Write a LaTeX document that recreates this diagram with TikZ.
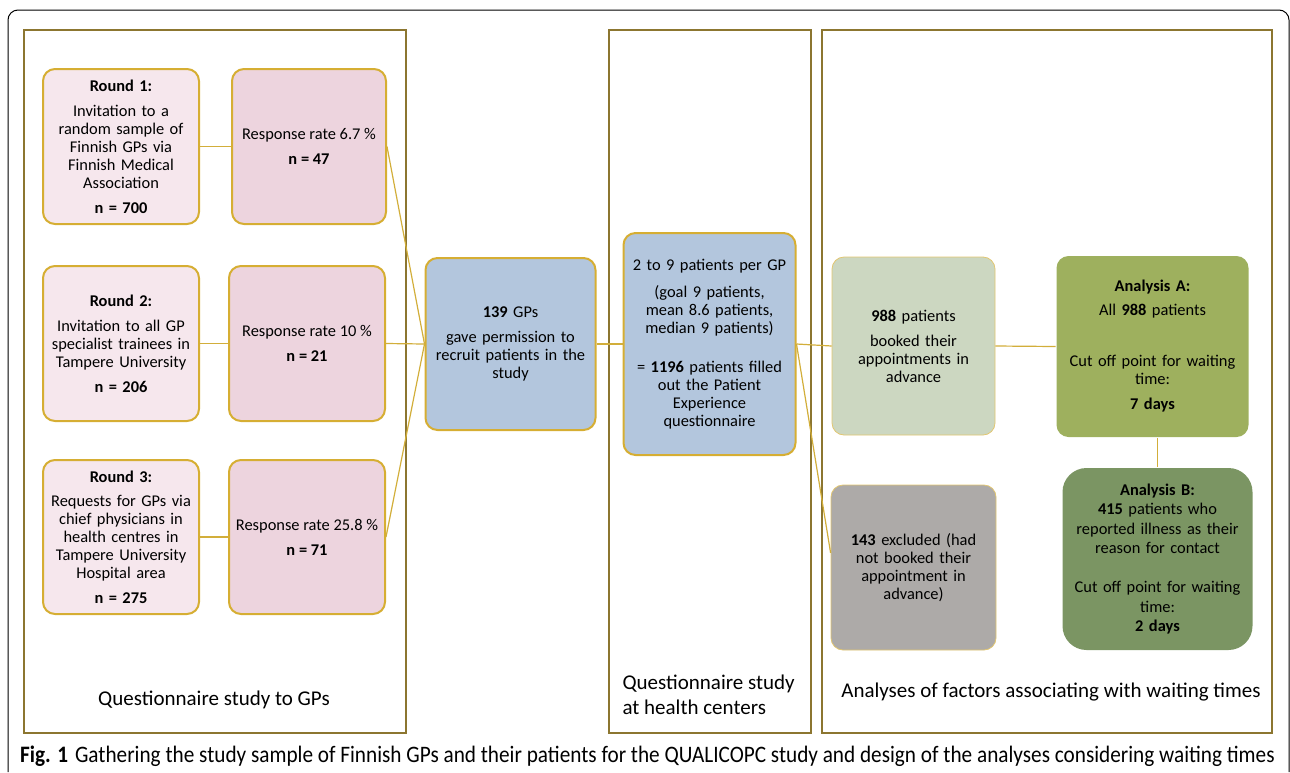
\documentclass[tikz,border=0pt]{standalone}
\usepackage{fontspec}
\setmainfont{Carlito}
\newfontfamily\capfont[FakeStretch=0.9]{Carlito}
\usepackage{xcolor}

\definecolor{panelline}{HTML}{8C7630}
\definecolor{boxgold}{HTML}{D6AE33}
\definecolor{linkgold}{HTML}{D2AE3A}
\definecolor{roundpink}{HTML}{F6E7ED}
\definecolor{ratepink}{HTML}{EDD4DE}
\definecolor{stepblue}{HTML}{B3C6DD}
\definecolor{sage}{HTML}{CCD7C1}
\definecolor{olivea}{HTML}{9EB05E}
\definecolor{oliveb}{HTML}{7B9563}
\definecolor{exclgray}{HTML}{ADAAA8}

\begin{document}
\begin{tikzpicture}[x=1pt,y=-1pt,
  panel/.style={draw=panelline,line width=2pt},
  box/.style={draw=boxgold,line width=2pt,rounded corners=12pt,align=center,
    font=\fontsize{16.4}{18}\selectfont,inner sep=4pt},
  softbox/.style={box,draw=boxgold!70,line width=0.8pt},
  link/.style={draw=linkgold,line width=1.2pt},
  label/.style={font=\fontsize{21}{25}\selectfont}]
\useasboundingbox (0,0) rectangle (1290,772);
% outer frame
\draw[line width=1pt,rounded corners=10pt] (8,772) -- (8,10) -- (1289,10) -- (1289,772);
% three panels
\draw[panel] (24,30) rectangle (406,733);
\draw[panel] (609,30) rectangle (811,733);
\draw[panel] (822,30) rectangle (1272,733);
\node[label] (lblgp) at (214,700) {Questionnaire study to GPs};
\node[label,align=left,anchor=west] (lblhc) at (619,695) {Questionnaire study\\at health centers};
\node[label] (lblan) at (1051,692) {Analyses of factors associating with waiting times};
% rounds
\node[box,fill=roundpink,minimum width=156pt,minimum height=155pt,text width=148pt] (round1) at (121,146.5)
  {\textbf{Round 1:}\\[7pt]Invitation to a\\random sample of\\Finnish GPs via\\Finnish Medical\\Association\\[7pt]\textbf{n = 700}};
\node[box,fill=ratepink,minimum width=154pt,minimum height=155pt] (rate1) at (309,146.5)
  {Response rate 6.7 \%\\[7pt]\textbf{n = 47}};
\node[box,fill=roundpink,minimum width=156pt,minimum height=155pt,text width=148pt] (round2) at (121,343.5)
  {\textbf{Round 2:}\\[7pt]Invitation to all GP\\specialist trainees in\\Tampere University\\[7pt]\textbf{n = 206}};
\node[box,fill=ratepink,minimum width=156pt,minimum height=155pt] (rate2) at (307,343.5)
  {Response rate 10 \%\\[7pt]\textbf{n = 21}};
\node[box,fill=roundpink,minimum width=156pt,minimum height=154pt,text width=148pt] (round3) at (121,537)
  {\textbf{Round 3:}\\[6pt]Requests for GPs via\\chief physicians in\\health centres in\\Tampere University\\Hospital area\\[7pt]\textbf{n = 275}};
\node[box,fill=ratepink,minimum width=156pt,minimum height=154pt] (rate3) at (307,537)
  {Response rate 25.8 \%\\[7pt]\textbf{n = 71}};
% GPs and patients
\node[box,fill=stepblue,minimum width=169pt,minimum height=172pt,text width=162pt] (gps) at (510.5,344)
  {\textbf{139} GPs\\[7pt]gave permission to\\recruit patients in the\\study};
\node[box,fill=stepblue,minimum width=171pt,minimum height=222pt,text width=164pt] (pats) at (709.5,344)
  {2 to 9 patients per GP\\[9pt](goal 9 patients,\\mean 8.6 patients,\\median 9 patients)\\[21pt]= \textbf{1196} patients filled\\out the Patient\\Experience\\questionnaire};
% analyses
\node[softbox,fill=sage,minimum width=163pt,minimum height=178pt,text width=154pt] (booked) at (913.5,346)
  {\textbf{988} patients\\[7pt]booked their\\appointments in\\advance};
\node[softbox,fill=exclgray,minimum width=165pt,minimum height=165pt,text width=154pt] (excl) at (913.5,567.5)
  {\textbf{143} excluded (had\\not booked their\\appointment in\\advance)};
\node[box,draw=none,fill=olivea,minimum width=191pt,minimum height=181pt,text width=184pt] (anaA) at (1152.5,346.5)
  {\textbf{Analysis A:}\\[6pt]All \textbf{988} patients\\[33pt]Cut off point for waiting\\time:\\[7pt]\textbf{7 days}};
\node[box,draw=none,fill=oliveb,rounded corners=24pt,minimum width=187pt,minimum height=182pt,text width=182pt,
  font=\fontsize{16.4}{19.5}\selectfont] (anaB) at (1157.5,559)
  {\textbf{Analysis B:}\\\textbf{415} patients who\\reported illness as their\\reason for contact\\[19.5pt]Cut off point for waiting\\time:\\\textbf{2 days}};
% links
\draw[link] (round1.east) -- (rate1.west);
\draw[link] (round2.east) -- (rate2.west);
\draw[link] (round3.east) -- (rate3.west);
\draw[link] (rate1.east) -- (gps.west);
\draw[link] (rate2.east) -- (gps.west);
\draw[link] (rate3.east) -- (gps.west);
\draw[link] (gps.east) -- (pats.west);
\draw[link] (pats.east) -- (booked.west);
\draw[link] (pats.east) -- (excl.170);
\draw[link] (booked.east) -- (anaA.west);
\draw[link] (anaA.south -| anaB.north) -- (anaB.north);
% caption
\node[anchor=west,font=\capfont\fontsize{23.6}{25}\selectfont,inner sep=0pt] (caption) at (20,756)
  {\textbf{Fig. 1}\hspace{7pt}Gathering the study sample of Finnish GPs and their patients for the QUALICOPC study and design of the analyses considering waiting times};
\end{tikzpicture}
\end{document}
